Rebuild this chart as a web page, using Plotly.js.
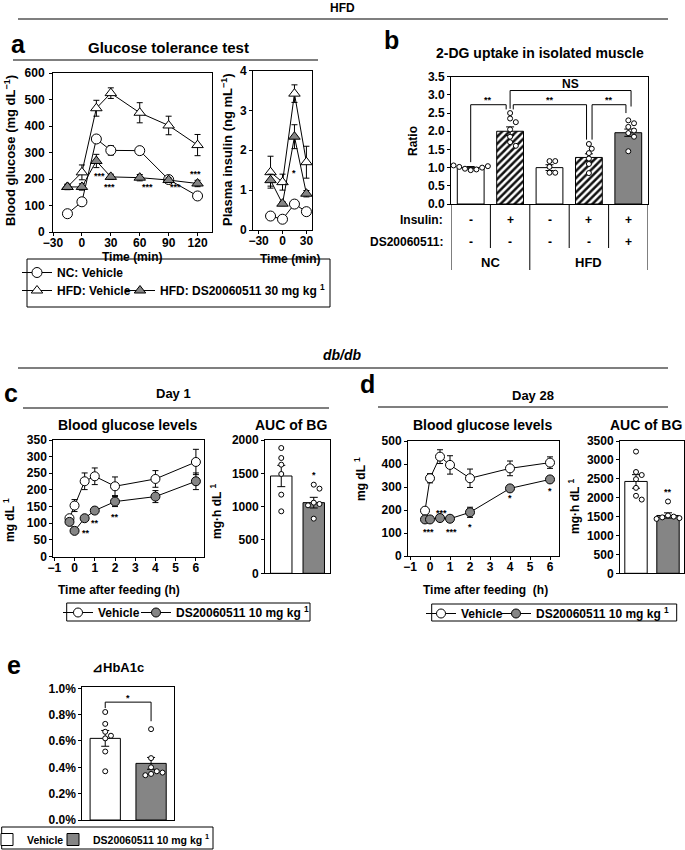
<!DOCTYPE html>
<html><head><meta charset="utf-8">
<script src="https://cdn.plot.ly/plotly-3.0.1.min.js"></script>
<style>html,body{margin:0;padding:0;background:#fff;}#chart{width:685px;height:850px;}</style>
</head><body><div id="chart"></div>
<script>
// ================= DATA =================
// Panel a: glucose tolerance test (mg/dL)
const aTime = [-15, 0, 15, 30, 60, 90, 120];
const aNC = [69, 114, 351, 308, 307, 198, 136];
const aNCErr = [5, 8, 12, 18, 12, 8, 6];
const aHFDVeh = [170, 225, 467, 524, 450, 402, 328];
const aHFDVehErr = [10, 28, 30, 20, 38, 35, 40];
const aHFDDS = [170, 170, 268, 208, 205, 196, 183];
const aHFDDSErr = [10, 12, 25, 10, 12, 8, 12];
// Panel a inset: plasma insulin (ng/mL)
const insTime = [-15, 0, 15, 30];
const insNC = [0.35, 0.27, 0.65, 0.46];
const insNCErr = [0.03, 0.03, 0.05, 0.05];
const insHFDVeh = [1.45, 1.2, 3.42, 1.7];
const insHFDVehErr = [0.4, 0.2, 0.22, 0.4];
const insHFDDS = [1.25, 0.66, 2.34, 0.91];
const insHFDDSErr = [0.15, 0.05, 0.3, 0.08];
// Panel b: 2-DG uptake ratio
const bInsulin = ['-', '+', '-', '+', '+'];
const bDS = ['-', '-', '-', '-', '+'];
const bGroups = ['NC', 'HFD'];
const bMean = [1.00, 2.00, 1.00, 1.28, 1.96];
const bErr = [0.03, 0.12, 0.08, 0.10, 0.10];
const bFill = ['white', 'hatch', 'white', 'hatch', 'gray'];
const bDots = [
  [0.93, 0.95, 0.97, 1.00, 1.02, 1.04, 1.06],
  [2.50, 2.35, 2.25, 2.05, 1.85, 1.70, 1.60],
  [1.18, 1.18, 1.02, 0.86, 0.86],
  [1.65, 1.52, 1.40, 1.25, 1.10, 0.85],
  [2.30, 2.22, 2.12, 2.02, 1.95, 1.85, 1.45]
];
// Panels c/d: blood glucose after feeding
const dayTime = [-0.25, 0, 0.5, 1, 2, 4, 6];
const d1Veh = [115, 153, 226, 241, 211, 233, 284];
const d1VehErr = [8, 18, 25, 25, 28, 25, 38];
const d1DS = [104, 77, 115, 138, 165, 180, 226];
const d1DSErr = [8, 6, 6, 8, 15, 18, 25];
const d1AUC = [1460, 1060];
const d1AUCErr = [160, 80];
const d1AUCVehDots = [1880, 1730, 1630, 1490, 1180, 930];
const d1AUCDSDots = [1330, 1270, 1060, 1040, 1020, 820];
const d28Veh = [197, 338, 432, 396, 338, 381, 406];
const d28VehErr = [12, 20, 30, 40, 40, 32, 25];
const d28DS = [159, 159, 165, 162, 190, 294, 333];
const d28DSErr = [8, 8, 8, 12, 22, 10, 10];
const d28AUC = [2430, 1530];
const d28AUCErr = [180, 70];
const d28AUCVehDots = [3220, 2680, 2600, 2490, 2260, 2050, 1950];
const d28AUCDSDots = [1900, 1530, 1500, 1480, 1460, 1440];
// Panel e: delta HbA1c (%)
const eMean = [0.62, 0.43];
const eErr = [0.06, 0.045];
const eVehDots = [0.82, 0.73, 0.67, 0.64, 0.62, 0.52, 0.37];
const eDSDots = [0.69, 0.47, 0.40, 0.37, 0.35, 0.34, 0.36];
const eTicks = [0, 0.2, 0.4, 0.6, 0.8, 1.0];
// Legend names
const nmNC = 'NC: Vehicle', nmHFDVeh = 'HFD: Vehicle', nmHFDDS = 'HFD: DS20060511 30 mg kg <sup>1</sup>';
const nmVeh = 'Vehicle', nmDS = 'DS20060511 10 mg kg <sup>1</sup>';

// ================= LAYOUT HELPERS =================
const W = 685, H = 850;
const px = x => x / W, py = y => 1 - y / H;
const FONT = 'Liberation Sans, Arial, Helvetica, sans-serif';
const GRAY = '#858585';
// subplot boxes in page pixels: [left, right, top, bottom]
const BOX = {
  a: [53, 212, 73, 232], ai: [253, 312, 70.5, 230], b: [451, 648, 76.7, 204],
  c: [53.3, 204, 440, 556.5], cA: [265, 330, 440, 573.3],
  d: [408, 559, 441, 556], dA: [620, 684, 441, 573.3], e: [82.3, 174, 687, 820]
};
const RANGES = {
  a: [[-30, 135], [0, 600]], ai: [[-37, 37], [0, 4]], b: [[-0.5, 4.5], [0, 3.5]],
  c: [[-1.05, 6.4], [0, 350]], cA: [[-0.5, 1.5], [0, 2000]],
  d: [[-1.1, 6.45], [0, 500]], dA: [[-0.5, 1.5], [0, 3500]], e: [[-0.5, 1.5], [0, 1.01]]
};
const axBase = {showline: true, linecolor: '#000', linewidth: 1, mirror: true, ticks: 'outside', ticklen: 3,
  tickcolor: '#000', showgrid: false, zeroline: false, fixedrange: true,
  tickfont: {size: 12, color: '#000', weight: 'bold', family: FONT}};
function xa(k, extra) {
  const b = BOX[k];
  return Object.assign({}, axBase, {domain: [px(b[0]), px(b[1])], range: RANGES[k][0], ticklabelstandoff: -3}, extra || {});
}
function ya(k, extra) {
  const b = BOX[k];
  return Object.assign({}, axBase, {domain: [py(b[3]), py(b[2])], range: RANGES[k][1]}, extra || {});
}
function pxPer(k) {
  const b = BOX[k], r = RANGES[k];
  return [(b[1] - b[0]) / (r[0][1] - r[0][0]), (b[3] - b[2]) / (r[1][1] - r[1][0])];
}
// simple beeswarm: x positions so dots don't overlap
function swarm(vals, center, k, diam) {
  const [sx, sy] = pxPer(k);
  const placed = [], xs = [];
  vals.forEach(v => {
    let off = 0;
    for (let i = 0; i < 60; i++) {
      off = i === 0 ? 0 : Math.ceil(i / 2) * (i % 2 ? 1 : -1) * diam * 0.55;
      if (placed.every(p => Math.hypot(p.x - off, (p.y - v) * sy) >= diam)) break;
    }
    placed.push({x: off, y: v});
    xs.push(center + off / sx);
  });
  return xs;
}
function lineTrace(x, y, err, xr, yr, sym, fill, name, legend, show, size) {
  return {type: 'scatter', mode: 'lines+markers', x: x, y: y, xaxis: xr, yaxis: yr, name: name,
    legend: legend, showlegend: show, cliponaxis: false,
    line: {color: '#000', width: 1}, marker: {symbol: sym, size: size, color: fill, line: {color: '#000', width: 1}},
    error_y: {type: 'data', array: err, visible: true, color: '#000', thickness: 1, width: 3}};
}
function dotTrace(vals, center, k, xr, yr) {
  return {type: 'scatter', mode: 'markers', x: swarm(vals, center, k, 5.2), y: vals, xaxis: xr, yaxis: yr,
    showlegend: false, cliponaxis: false, marker: {symbol: 'circle', size: 5, color: '#fff', line: {color: '#000', width: 1}}};
}
const errBar = arr => ({type: 'data', array: arr, visible: true, color: '#000', thickness: 1, width: 4});

// ================= TRACES =================
const traces = [];
// a main
traces.push(lineTrace(aTime, aHFDVeh, aHFDVehErr, 'x', 'y', 'triangle-up', '#fff', nmHFDVeh, 'legend2', true, 10));
traces.push(lineTrace(aTime, aNC, aNCErr, 'x', 'y', 'circle', '#fff', nmNC, 'legend', true, 10));
traces.push(lineTrace(aTime, aHFDDS, aHFDDSErr, 'x', 'y', 'triangle-up', GRAY, nmHFDDS, 'legend6', true, 10));
// a inset
traces.push(lineTrace(insTime, insNC, insNCErr, 'x2', 'y2', 'circle', '#fff', nmNC, 'legend', false, 10));
traces.push(lineTrace(insTime, insHFDVeh, insHFDVehErr, 'x2', 'y2', 'triangle-up', '#fff', nmHFDVeh, 'legend2', false, 10));
traces.push(lineTrace(insTime, insHFDDS, insHFDDSErr, 'x2', 'y2', 'triangle-up', GRAY, nmHFDDS, 'legend6', false, 10));
// b bars: one trace per fill style
[['white', {color: '#fff'}], ['hatch', {color: '#fff', pattern: {shape: '/', fgcolor: '#111', bgcolor: '#fff', size: 5, solidity: 0.5}}],
 ['gray', {color: GRAY}]].forEach(([kind, mk]) => {
  const idx = bMean.map((_, i) => i).filter(i => bFill[i] === kind);
  traces.push({type: 'bar', x: idx, y: idx.map(i => bMean[i]), xaxis: 'x3', yaxis: 'y3', width: 0.68, showlegend: false,
    marker: Object.assign({line: {color: '#000', width: 1}}, mk), error_y: errBar(idx.map(i => bErr[i]))});
});
bDots.forEach((g, i) => traces.push(dotTrace(g, i, 'b', 'x3', 'y3')));
// c
traces.push(lineTrace(dayTime, d1Veh, d1VehErr, 'x4', 'y4', 'circle', '#fff', nmVeh, 'legend3', true, 9));
traces.push(lineTrace(dayTime, d1DS, d1DSErr, 'x4', 'y4', 'circle', GRAY, nmDS, 'legend7', true, 9));
traces.push({type: 'bar', x: [0, 1], y: d1AUC, xaxis: 'x5', yaxis: 'y5', width: 0.66, showlegend: false,
  marker: {color: ['#fff', GRAY], line: {color: '#000', width: 1}}, error_y: errBar(d1AUCErr)});
traces.push(dotTrace(d1AUCVehDots, 0, 'cA', 'x5', 'y5'));
traces.push(dotTrace(d1AUCDSDots, 1, 'cA', 'x5', 'y5'));
// d
traces.push(lineTrace(dayTime, d28Veh, d28VehErr, 'x6', 'y6', 'circle', '#fff', nmVeh, 'legend4', true, 9));
traces.push(lineTrace(dayTime, d28DS, d28DSErr, 'x6', 'y6', 'circle', GRAY, nmDS, 'legend8', true, 9));
traces.push({type: 'bar', x: [0, 1], y: d28AUC, xaxis: 'x7', yaxis: 'y7', width: 0.7, showlegend: false,
  marker: {color: ['#fff', GRAY], line: {color: '#000', width: 1}}, error_y: errBar(d28AUCErr)});
traces.push(dotTrace(d28AUCVehDots, 0, 'dA', 'x7', 'y7'));
traces.push(dotTrace(d28AUCDSDots, 1, 'dA', 'x7', 'y7'));
// e
traces.push({type: 'bar', x: [0], y: [eMean[0]], xaxis: 'x8', yaxis: 'y8', width: 0.66, name: nmVeh, legend: 'legend5',
  marker: {color: '#fff', line: {color: '#000', width: 1}}, error_y: errBar([eErr[0]])});
traces.push({type: 'bar', x: [1], y: [eMean[1]], xaxis: 'x8', yaxis: 'y8', width: 0.66, name: nmDS, legend: 'legend9',
  marker: {color: GRAY, line: {color: '#000', width: 1}}, error_y: errBar([eErr[1]])});
traces.push(dotTrace(eVehDots, 0, 'e', 'x8', 'y8'));
traces.push(dotTrace(eDSDots, 1, 'e', 'x8', 'y8'));

// ================= ANNOTATIONS / SHAPES =================
const ann = [], shp = [];
function T(text, x, y, o) {
  o = o || {};
  ann.push(Object.assign({text: text, x: o.xref ? x : px(x), y: o.yref ? y : py(y), xref: o.xref || 'paper', yref: o.yref || 'paper',
    showarrow: false, xanchor: 'center', yanchor: 'middle', font: {family: FONT, size: o.size || 12, color: '#000', weight: 'bold'}},
    o.extra || {}));
}
function L(x0, y0, x1, y1) {
  shp.push({type: 'line', xref: 'paper', yref: 'paper', x0: px(x0), x1: px(x1), y0: py(y0), y1: py(y1), line: {color: '#000', width: 1.2}});
}
function rect(x0, y0, x1, y1) {
  shp.push({type: 'rect', xref: 'paper', yref: 'paper', x0: px(x0), x1: px(x1), y0: py(y0), y1: py(y1), line: {color: '#000', width: 1}});
}
function bracket(xr, yr, x0, x1, top, yl, yrr, label, ly) {
  shp.push({type: 'path', xref: xr, yref: yr, path: `M${x0},${yl} L${x0},${top} L${x1},${top} L${x1},${yrr}`, line: {color: '#000', width: 1}});
  T(label, (x0 + x1) / 2, ly, {xref: xr, yref: yr, size: label === 'NS' ? 12 : 9});
}
const star = (s, x, y, xr, yr) => T(s, x, y, {xref: xr, yref: yr, size: 9});
// headers
T('HFD', 342, 8, {size: 12});
L(18, 19, 668, 19);
T('<i>db/db</i>', 342, 355, {size: 14});
L(18, 368, 668, 368);
// panel letters
T('a', 18, 44, {size: 25});
T('b', 392, 40, {size: 25});
T('c', 11, 393, {size: 25});
T('d', 367, 384, {size: 25});
T('e', 14, 665, {size: 25});
// panel a
T('Glucose tolerance test', 168, 47, {size: 15});
L(13, 60, 318, 60);
T('Blood glucose (mg dL<sup>−1</sup>)', 10, 151, {size: 13, extra: {textangle: -90}});
T('Plasma insulin (ng mL<sup>−1</sup>)', 227, 150, {size: 13, extra: {textangle: -90}});
T('Time (min)', 132, 257, {size: 12});
T('Time (min)', 290, 259, {size: 12});
[[18.6, 213], [29, 170], [68, 170], [97, 170], [118, 217]].forEach(p => star('***', p[0], p[1], 'x', 'y'));
star('*', 15, 1.42, 'x2', 'y2');
rect(27, 259, 330, 307);
// panel b
T('2-DG uptake in isolated muscle', 540, 53, {size: 14});
T('Ratio', 413, 141, {size: 12, extra: {textangle: -90}});
T('Insulin:', 445, 220, {size: 12, extra: {xanchor: 'right'}});
T('DS20060511:', 445, 242, {size: 12, extra: {xanchor: 'right'}});
bInsulin.forEach((s, i) => T(s, i, py(220), {xref: 'x3', yref: 'paper', size: 12}));
bDS.forEach((s, i) => T(s, i, py(242), {xref: 'x3', yref: 'paper', size: 12}));
T(bGroups[0], 0.5, py(263), {xref: 'x3', yref: 'paper', size: 13});
T(bGroups[1], 3, py(263), {xref: 'x3', yref: 'paper', size: 13});
[[0.5, 248], [2.5, 248], [3.5, 248], [-0.5, 270], [1.5, 270], [4.5, 270]].forEach(s =>
  shp.push({type: 'line', xref: 'x3', yref: 'paper', x0: s[0], x1: s[0], y0: py(204), y1: py(s[1]), line: {color: '#000', width: 1}}));
bracket('x3', 'y3', 0, 0.9, 2.73, 1.15, 2.6, '**', 2.85);
bracket('x3', 'y3', 1.0, 4.07, 3.12, 2.62, 2.68, 'NS', 3.3);
bracket('x3', 'y3', 1.08, 2.94, 2.73, 2.6, 1.77, '**', 2.85);
bracket('x3', 'y3', 3.08, 3.94, 2.73, 1.77, 2.5, '**', 2.85);
// panel c
T('Day 1', 174, 393, {size: 13});
L(23, 408, 329, 408);
T('Blood glucose levels', 127, 425, {size: 14});
T('AUC of BG', 291, 425, {size: 14});
T('mg dL <sup>1</sup>', 9, 520, {size: 12, extra: {textangle: -90}});
T('mg·h dL <sup>1</sup>', 216, 512, {size: 12, extra: {textangle: -90}});
T('Time after feeding (h)', 119, 590, {size: 12});
[[0.55, 70], [1.03, 102], [2.0, 120]].forEach(p => star('**', p[0], p[1], 'x4', 'y4'));
star('*', 1, 1470, 'x5', 'y5');
rect(66.7, 603, 310, 621);
// panel d
T('Day 28', 533, 395, {size: 13});
L(378, 407, 668, 407);
T('Blood glucose levels', 482, 425, {size: 14});
T('AUC of BG', 646, 425, {size: 14});
T('mg dL <sup>1</sup>', 360, 479, {size: 12, extra: {textangle: -90}});
T('mg·h dL <sup>1</sup>', 574, 507, {size: 12, extra: {textangle: -90}});
T('Time after feeding  (h)', 486, 590, {size: 12});
[[-0.1, 106], [0.55, 188], [1.05, 106]].forEach(p => star('***', p[0], p[1], 'x6', 'y6'));
[[2, 128], [4, 253], [6, 283]].forEach(p => star('*', p[0], p[1], 'x6', 'y6'));
star('**', 1, 2160, 'x7', 'y7');
rect(431.7, 604, 676.7, 621);
// panel e
T('⊿HbA1c', 118, 667, {size: 13});
bracket('x8', 'y8', 0, 1, 0.895, 0.85, 0.75, '*', 0.925);
rect(1.7, 827, 213, 849);

// ================= LAYOUT =================
function leg(x, y, size) {
  return {orientation: 'h', xanchor: 'left', yanchor: 'top', x: px(x), y: py(y), bgcolor: 'rgba(0,0,0,0)', borderwidth: 0,
    font: {family: FONT, size: size || 12, color: '#000', weight: 'bold'}, itemwidth: 30, itemclick: false, itemdoubleclick: false};
}
const layout = {
  width: W, height: H, margin: {l: 0, r: 0, t: 0, b: 0, autoexpand: false}, paper_bgcolor: '#fff', plot_bgcolor: 'rgba(0,0,0,0)',
  font: {family: FONT, size: 12, color: '#000', weight: 'bold'}, barmode: 'overlay', hovermode: false,
  xaxis: xa('a', {anchor: 'y', tickvals: [-30, 0, 30, 60, 90, 120]}),
  yaxis: ya('a', {anchor: 'x', dtick: 100, ticklabelstandoff: 2}),
  xaxis2: xa('ai', {anchor: 'y2', tickvals: [-30, 0, 30]}),
  yaxis2: ya('ai', {anchor: 'x2', dtick: 1}),
  xaxis3: xa('b', {anchor: 'y3', showticklabels: false, ticks: ''}),
  yaxis3: ya('b', {anchor: 'x3', dtick: 0.5, tickformat: '.1f'}),
  xaxis4: xa('c', {anchor: 'y4', dtick: 1, tick0: 0}),
  yaxis4: ya('c', {anchor: 'x4', dtick: 50}),
  xaxis5: xa('cA', {anchor: 'y5', showticklabels: false, ticks: ''}),
  yaxis5: ya('cA', {anchor: 'x5', dtick: 500}),
  xaxis6: xa('d', {anchor: 'y6', dtick: 1, tick0: 0}),
  yaxis6: ya('d', {anchor: 'x6', dtick: 100}),
  xaxis7: xa('dA', {anchor: 'y7', showticklabels: false, ticks: ''}),
  yaxis7: ya('dA', {anchor: 'x7', dtick: 500}),
  xaxis8: xa('e', {anchor: 'y8', showticklabels: false, ticks: ''}),
  yaxis8: ya('e', {anchor: 'x8', tickmode: 'array', tickvals: eTicks, ticktext: eTicks.map(v => v.toFixed(1) + '%')}),
  legend: leg(17, 258), legend2: leg(17, 276), legend6: leg(120, 276),
  legend3: leg(58, 598), legend7: leg(136, 598),
  legend4: leg(421, 599), legend8: leg(496, 599),
  legend5: leg(-13, 825, 10.5), legend9: leg(53, 825, 10.5),
  annotations: ann, shapes: shp
};
Plotly.newPlot('chart', traces, layout, {displayModeBar: false, staticPlot: true});
</script></body></html>
